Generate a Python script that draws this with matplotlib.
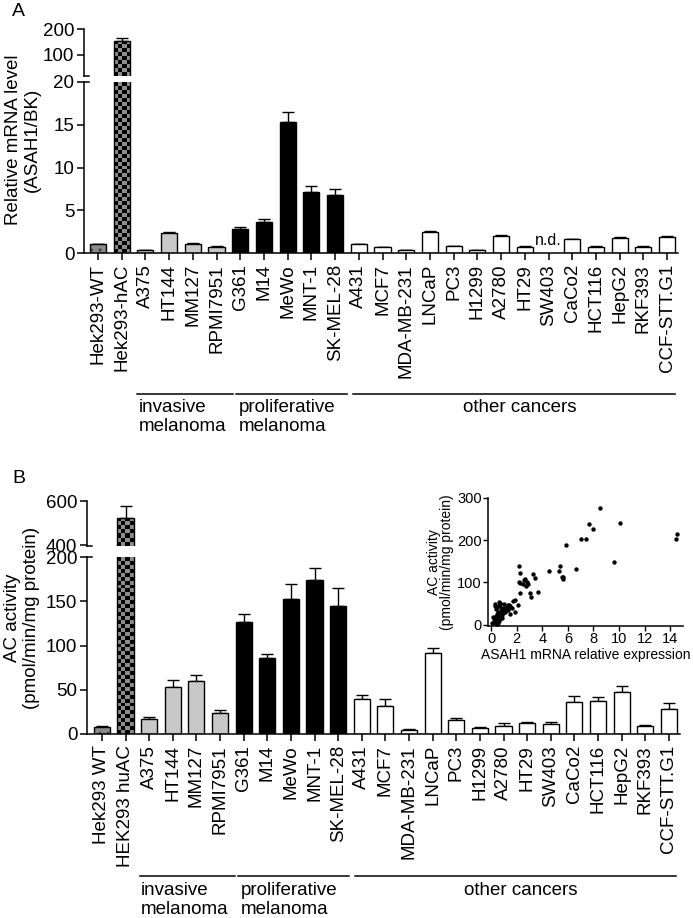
import numpy as np
import matplotlib
matplotlib.use("Agg")
import matplotlib.pyplot as plt
from matplotlib.transforms import blended_transform_factory

plt.rcParams['font.family'] = ['Liberation Sans', 'DejaVu Sans']
plt.rcParams['axes.linewidth'] = 1.1

# ---------------- data ----------------
labels_a = ["Hek293-WT", "Hek293-hAC", "A375", "HT144", "MM127", "RPMI7951",
            "G361", "M14", "MeWo", "MNT-1", "SK-MEL-28", "A431", "MCF7",
            "MDA-MB-231", "LNCaP", "PC3", "H1299", "A2780", "HT29", "SW403",
            "CaCo2", "HCT116", "HepG2", "RKF393", "CCF-STT.G1"]
labels_b = ["Hek293 WT", "HEK293 huAC"] + labels_a[2:]
groups = ["wt", "hac"] + ["inv"] * 4 + ["pro"] * 5 + ["oth"] * 14

mrna = [1.0, 155, 0.35, 2.35, 1.1, 0.75, 2.85, 3.6, 15.3, 7.1, 6.8, 1.0, 0.65,
        0.3, 2.5, 0.8, 0.3, 2.0, 0.75, np.nan, 1.6, 0.7, 1.8, 0.7, 1.87]
mrna_err = [0.1, 12, 0.05, 0.15, 0.07, 0.07, 0.2, 0.35, 1.2, 0.7, 0.65, 0.07, 0.08,
            0.04, 0.1, 0.07, 0.05, 0.1, 0.05, np.nan, 0.08, 0.12, 0.1, 0.07, 0.15]

act = [8, 524, 17, 53, 59.5, 24, 126, 86, 152.5, 173.6, 145, 40, 32, 4.5, 91.5,
       16, 6.8, 9.4, 12.4, 11.3, 36.5, 37.6, 47, 9, 27.8]
act_err = [1.2, 53, 1.8, 8.5, 7.5, 2.7, 10, 4, 17, 14, 20, 3.6, 8, 1.2, 6, 2,
           1.2, 2.6, 1.6, 2.7, 6.5, 4.2, 6.8, 0.8, 7.2]

scatter_x = [8.47, 7.64, 7.94, 10.05, 7.06, 7.44, 5.88, 14.45, 14.55, 9.62, 6.61,
             4.52, 5.28, 5.40, 5.55, 5.60, 5.65, 2.14, 2.24, 2.14, 2.26, 2.54,
             2.49, 2.69, 2.86, 2.79, 2.61, 3.24, 3.42, 3.64, 3.04, 3.09, 2.26,
             2.11, 1.88, 1.73, 1.83, 1.33, 1.43, 1.38, 1.03, 0.83, 0.73, 0.88,
             0.83, 0.63, 0.30, 0.43, 0.58, 0.68, 1.00, 1.18, 1.61,
             0.10, 0.20, 0.25, 0.30, 0.35, 0.40, 0.45, 0.50, 0.50, 0.55, 0.60,
             0.60, 0.65, 0.70, 0.75, 0.80, 0.85, 0.90, 1.05, 1.10, 1.20, 1.30,
             0.30, 0.40, 0.70, 0.15, 0.20, 0.45, 0.55, 1.50, 1.45]
scatter_y = [276, 239, 226, 241, 204, 202, 189, 204, 214, 148, 131,
             127, 127, 139, 114, 109, 112, 140, 123, 102, 99, 107,
             97, 92, 97, 101, 109, 121, 111, 78, 75, 65, 74,
             47, 59, 57, 31, 47, 42, 47, 39, 36, 31, 23,
             17, 53, 49, 43, 28, 21, 50, 36, 39,
             5, 10, 15, 8, 20, 12, 25, 18, 5, 30, 10,
             45, 50, 22, 35, 15, 40, 28, 38, 30, 42, 35,
             45, 38, 52, 18, 3, 2, 12, 45, 25]

# ---------------- layout ----------------
W, H = 693, 918
fig = plt.figure(figsize=(W / 100, H / 100), dpi=100)


def rect(left, right, top, bottom):
    return [left / W, 1 - bottom / H, (right - left) / W, (bottom - top) / H]


def fy(py):
    return 1 - py / H


colors = {"wt": "#8a8a8a", "hac": "#8c8c8c", "inv": "#c8c8c8", "pro": "black", "oth": "white"}
BW = 0.68
FS = 13.5


def checker(ax, x, top, ylo, yhi, ncol, nrow):
    img = np.zeros((nrow, ncol, 4))
    for r in range(nrow):
        for c in range(ncol):
            if (r + c) % 2 == 0:
                img[r, c] = [0, 0, 0, 1]
    bar = ax.bar([x], [top], width=BW, color="#8c8c8c", edgecolor="none", zorder=2)[0]
    im = ax.imshow(img, extent=(x - BW / 2, x + BW / 2, ylo, yhi), aspect="auto",
                   interpolation="nearest", zorder=2.5, origin="lower")
    im.set_clip_path(bar)
    ax.bar([x], [top], width=BW, color="none", edgecolor="black", linewidth=1, zorder=3)


def draw_panel(ax_up, ax_lo, vals, errs, up_lim, lo_lim, up_ticks, lo_ticks, xlim,
               labels, lo_rows, up_rows):
    x = np.arange(len(vals))
    vals = np.array(vals, dtype=float)
    errs = np.array(errs, dtype=float)
    for ax in (ax_up, ax_lo):
        lim = up_lim if ax is ax_up else lo_lim
        for i in range(len(vals)):
            if np.isnan(vals[i]):
                continue
            g = groups[i]
            if g == "hac":
                rows = up_rows if ax is ax_up else lo_rows
                checker(ax, x[i], vals[i], lim[0], lim[1], 4, rows)
            elif g == "wt":
                ax.bar([x[i]], [vals[i]], width=BW, color=colors[g], edgecolor="#444444",
                       hatch="..", linewidth=0, zorder=2)
                ax.bar([x[i]], [vals[i]], width=BW, color="none", edgecolor="black",
                       linewidth=1, zorder=3)
            else:
                ax.bar([x[i]], [vals[i]], width=BW, color=colors[g], edgecolor="black",
                       linewidth=1, zorder=2)
        # error bars only where the cap falls inside this axes
        tops = vals + errs
        ok = ~np.isnan(vals) & (tops >= lim[0]) & (tops <= lim[1])
        ax.errorbar(x[ok], vals[ok], yerr=[np.zeros(ok.sum()), errs[ok]], fmt="none",
                    ecolor="black", elinewidth=1, capsize=4, capthick=1, zorder=1)
        ax.set_xlim(*xlim)
        ax.set_facecolor("none")
        ax.spines["top"].set_visible(False)
        ax.spines["right"].set_visible(False)
        ax.tick_params(axis="y", direction="out", length=5, width=1.1, labelsize=FS, pad=2)
    ax_up.set_ylim(*up_lim)
    ax_lo.set_ylim(*lo_lim)
    ax_up.set_yticks(up_ticks)
    ax_lo.set_yticks(lo_ticks)
    ax_up.spines["bottom"].set_visible(False)
    ax_up.set_xticks([])
    ax_lo.set_xticks(x)
    ax_lo.set_xticklabels(labels, rotation=90, fontsize=FS, va="top", ha="center")
    ax_lo.tick_params(axis="x", direction="out", length=5, width=1.1, pad=3)
    # break stubs
    for ax, yy in ((ax_up, 0.0), (ax_lo, 1.0)):
        ax.plot([0, 0.009], [yy, yy], transform=ax.transAxes, color="black",
                linewidth=1.1, clip_on=False)


# Panel A
axA_up = fig.add_axes(rect(84, 678, 29, 76))
axA_lo = fig.add_axes(rect(84, 678, 82, 253))
draw_panel(axA_up, axA_lo, mrna, mrna_err, (19.2, 200), (0, 20), [100, 200],
           [0, 5, 10, 15, 20], (-0.59, 24.46), labels_a, 43, 12)
axA_lo.text(19, 0.55, "n.d.", ha="center", va="bottom", fontsize=11.5)

# Panel B
axB_up = fig.add_axes(rect(87, 680, 501, 546))
axB_lo = fig.add_axes(rect(87, 680, 557, 734))
draw_panel(axB_up, axB_lo, act, act_err, (395.5, 600), (0, 200), [400, 600],
           [0, 50, 100, 150, 200], (-0.63, 24.47), labels_b, 45, 11)

# y labels and panel letters
fig.text(23 / W, fy(140), "Relative mRNA level\n(ASAH1/BK)", rotation=90, ha="center",
         va="center", fontsize=FS, linespacing=1.15)
fig.text(22 / W, fy(618), "AC activity\n(pmol/min/mg protein)", rotation=90, ha="center",
         va="center", fontsize=FS, linespacing=1.1)
fig.text(12 / W, fy(3), "A", fontsize=14, va="top", ha="left")
fig.text(12 / W, fy(470), "B", fontsize=14, va="top", ha="left")


# group brackets
def group_labels(ax, line_py, text_py, offset):
    tr = blended_transform_factory(ax.transData, fig.transFigure)
    spans = [(1.65, 5.7), (5.8, 10.5), (10.75, 24.35)]
    for a, b in spans:
        fig.add_artist(plt.Line2D([a + offset, b + offset], [fy(line_py)] * 2,
                                  transform=tr, color="black", linewidth=1.1))
    ax.text(1.7 + offset, fy(text_py), "invasive\nmelanoma", transform=tr, ha="left",
            va="top", fontsize=FS, linespacing=1.15)
    ax.text(5.95 + offset, fy(text_py), "proliferative\nmelanoma", transform=tr, ha="left",
            va="top", fontsize=FS, linespacing=1.15)
    ax.text(17.8 + offset, fy(text_py), "other cancers", transform=tr, ha="center",
            va="top", fontsize=FS)


group_labels(axA_lo, 394, 399, 0)
group_labels(axB_lo, 876, 882, -0.05)

# inset scatter
axI = fig.add_axes(rect(488, 683, 498, 626))
axI.scatter(scatter_x, scatter_y, s=10, color="black", zorder=3, linewidths=0)
axI.set_xlim(-0.25, 15)
axI.set_ylim(-3, 300)
axI.set_xticks([0, 2, 4, 6, 8, 10, 12, 14])
axI.set_yticks([0, 100, 200, 300])
axI.spines["top"].set_visible(False)
axI.spines["right"].set_visible(False)
axI.tick_params(direction="out", length=3.5, width=1, labelsize=10.5, pad=1)
axI.set_xlabel("ASAH1 mRNA relative expression", fontsize=10, labelpad=1)
axI.set_ylabel("AC activity\n(pmol/min/mg protein)", fontsize=10, labelpad=2,
               linespacing=0.95)
axI.set_facecolor("none")

fig.savefig("out.png", dpi=100)
